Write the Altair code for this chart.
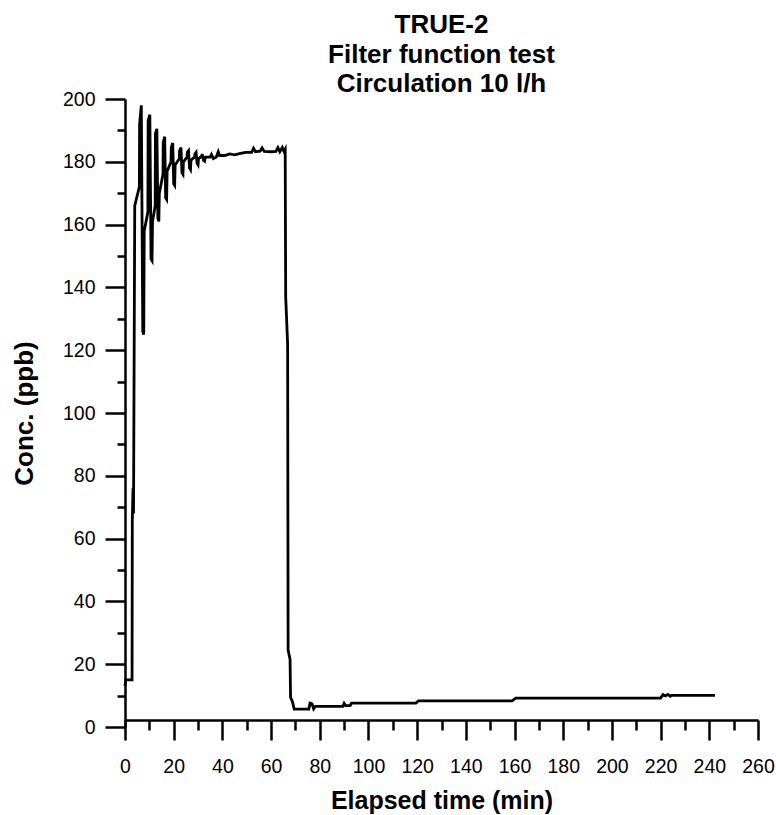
import altair as alt
import pandas as pd

# Elapsed time (min) and concentration (ppb)
times = [
    0.0, 0.3, 2.9, 3.0, 3.3, 3.5, 4.0, 5.9,
    6.0, 6.7, 7.3, 7.7, 7.9, 9.4,
    9.5, 10.2, 10.7, 11.1, 11.3, 12.4,
    12.5, 13.1, 13.5, 13.9, 14.1, 15.6,
    15.7, 16.3, 16.7, 17.1, 17.3, 18.9,
    19.0, 19.6, 20.0, 20.4, 20.6, 22.3,
    22.4, 23.0, 23.4, 23.8, 24.0, 25.5,
    25.6, 26.1, 26.5, 26.9, 27.1, 28.6,
    28.7, 29.2, 29.6, 30.0, 30.2, 31.5,
    31.7, 32.2, 32.7, 33.0,
    35.0, 35.5, 36.3, 37.5, 38.3, 38.8,
    41.0, 43.0, 45.0, 47.0, 49.5, 52.0, 52.8, 53.6,
    55.5, 56.3, 57.2, 60.0, 62.0, 62.8, 63.6, 64.6, 65.3, 65.8,
    66.0, 66.8, 67.0, 67.8, 68.0, 68.8, 69.5,
    75.5, 76.0, 76.8, 77.5, 78.2, 89.5, 90.0, 90.6, 92.5, 93.0,
    119.5, 120.5, 159.0, 160.5, 220.0, 221.0, 222.0, 223.0, 224.0, 224.6, 242.3,
]
concs = [
    13, 15, 15, 66, 76, 68, 166, 172,
    192, 198, 126, 125, 158, 164,
    193, 195, 149, 148.5, 161, 166,
    189, 190.5, 162, 161, 170, 176,
    186, 188, 168.5, 168, 177, 180,
    184.5, 186, 173, 172.5, 179, 181,
    183.5, 184.5, 176.5, 176, 180, 181.5,
    183, 183.5, 178, 177.5, 180.5, 181.5,
    182.5, 183, 179.5, 179, 181, 181.8,
    182.5, 180.5, 180.2, 181.5,
    181.5, 182.3, 181, 181.5, 183.2, 182,
    182, 182.5, 182.2, 182.6, 183, 183, 184.3, 183.2,
    183.4, 184.4, 183.3, 183.2, 183.3, 184.5, 183.2, 184.6, 183.3, 184,
    137, 122, 24.5, 21.5, 9.5, 8, 5.7,
    5.7, 7.6, 7.4, 5.8, 6.6, 6.6, 7.5, 6.8, 6.8, 7.6,
    7.6, 8.3, 8.3, 9.2, 9.2, 10.3, 9.9, 10.4, 9.8, 10.1, 10.1,
]

x_major = list(range(0, 261, 20))
x_minor = list(range(10, 260, 20))
y_major = list(range(0, 201, 20))
y_minor = list(range(10, 200, 20))

title_lines = ["TRUE-2", "Filter function test", "Circulation 10 l/h"]

df = pd.DataFrame({"t": times, "c": concs, "i": list(range(len(times)))})

FONT = "Liberation Sans"

x_scale = alt.Scale(domain=[0, 260], nice=False, zero=False)
y_scale = alt.Scale(domain=[0, 200], nice=False, zero=False)

line = alt.Chart(df).mark_line(color="black", strokeWidth=2.8).encode(
    x=alt.X("t:Q", scale=x_scale, axis=alt.Axis(
        orient="bottom", values=x_major, tickSize=20, tickWidth=2.5,
        domainWidth=2.5, domainColor="black", tickColor="black",
        labelFont=FONT, labelFontSize=19.5, labelColor="black",
        labelPadding=17, labelFlush=False, labelOverlap=False,
        title="Elapsed time (min)", titleFont=FONT, titleFontSize=25,
        titleFontWeight="bold", titleColor="black", titlePadding=13,
        grid=False, offset=-7, format="d")),
    y=alt.Y("c:Q", scale=y_scale, axis=alt.Axis(
        orient="left", values=y_major, tickSize=20, tickWidth=2.5,
        domainWidth=2.5, domainColor="black", tickColor="black",
        labelFont=FONT, labelFontSize=19.5, labelColor="black",
        labelPadding=10, labelFlush=False, labelOverlap=False,
        title="Conc. (ppb)", titleFont=FONT, titleFontSize=26,
        titleFontWeight="bold", titleColor="black", titlePadding=25,
        grid=False, format="d")),
    order=alt.Order("i:Q"),
)

minor = alt.Chart(df).mark_point(opacity=0).encode(
    x=alt.X("t:Q", scale=x_scale, axis=alt.Axis(
        orient="bottom", values=x_minor, tickSize=10, tickWidth=2.5,
        tickColor="black", domain=False, labels=False, title="",
        grid=False, offset=-7)),
    y=alt.Y("c:Q", scale=y_scale, axis=alt.Axis(
        orient="left", values=y_minor, tickSize=8, tickWidth=2.5,
        tickColor="black", domain=False, labels=False, title="",
        grid=False)),
)

chart = alt.layer(line, minor).resolve_scale(
    x="independent", y="independent"
).properties(
    width=633, height=628,
    title=alt.TitleParams(text=title_lines, fontSize=26, fontWeight="bold",
                          font=FONT, color="black", anchor="middle",
                          lineHeight=29.5, offset=-8),
    autosize=alt.AutoSizeParams(type="none"),
    padding={"left": 125, "top": 99, "right": 18, "bottom": 88},
).configure_view(stroke=None)

chart.save("out.html", embed_options={"renderer": "svg", "actions": False})
